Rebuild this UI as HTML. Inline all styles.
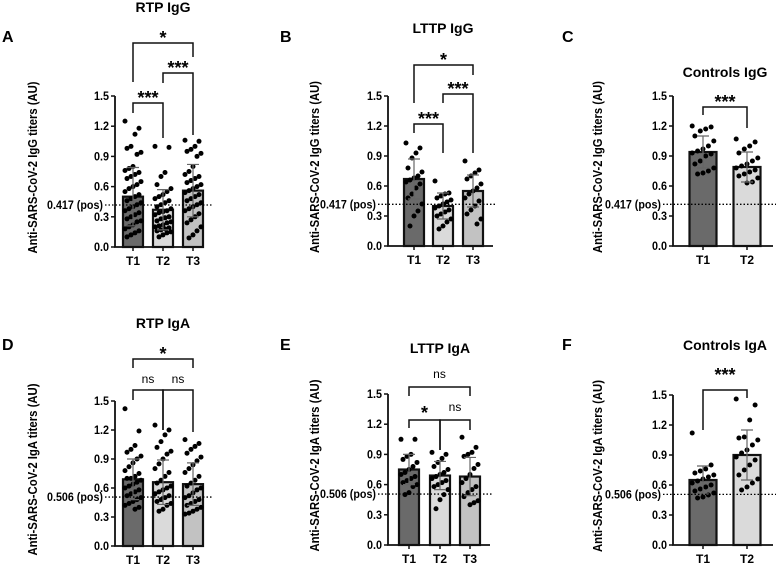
<!DOCTYPE html>
<html><head><meta charset="utf-8">
<style>
html,body{margin:0;padding:0;background:#fff;}
svg{display:block;font-family:"Liberation Sans",Arial,sans-serif;}
</style></head>
<body>
<svg id="fig" width="776" height="565" viewBox="0 0 776 565" xmlns="http://www.w3.org/2000/svg"></svg>
<script>
// ---- data ----
const categoriesA = ["T1","T2","T3"];
const meansA = [0.50,0.37,0.56];
const sdA = [0.29,0.20,0.26];
const ptsA_T1 = [1.25,1.18,1.12,1.0,0.98,0.94,0.92,0.80,0.78,0.76,0.74,0.72,0.70,0.68,0.65,0.62,0.60,0.58,0.55,0.52,0.50,0.48,0.46,0.44,0.42,0.40,0.38,0.36,0.34,0.32,0.30,0.28,0.26,0.25,0.22,0.20,0.18,0.16,0.14,0.12,0.10];
const ptsA_T2 = [1.0,0.99,0.74,0.70,0.62,0.58,0.55,0.52,0.50,0.48,0.46,0.44,0.42,0.40,0.38,0.36,0.35,0.34,0.32,0.30,0.29,0.28,0.26,0.25,0.24,0.22,0.21,0.20,0.19,0.18,0.17,0.16,0.15,0.14,0.12,0.10];
const ptsA_T3 = [1.06,1.05,1.0,0.97,0.95,0.93,0.90,0.80,0.75,0.72,0.70,0.68,0.66,0.64,0.62,0.60,0.58,0.56,0.54,0.52,0.50,0.48,0.46,0.44,0.42,0.40,0.38,0.36,0.33,0.30,0.27,0.24,0.20,0.16,0.12,0.09];

const categoriesB = ["T1","T2","T3"];
const meansB = [0.67,0.40,0.55];
const sdB = [0.20,0.13,0.16];
const ptsB_T1 = [1.03,0.98,0.93,0.88,0.78,0.74,0.70,0.68,0.66,0.64,0.62,0.58,0.52,0.48,0.42,0.35,0.30,0.20];
const ptsB_T2 = [0.65,0.53,0.52,0.50,0.48,0.46,0.44,0.42,0.40,0.38,0.36,0.34,0.32,0.30,0.27,0.24,0.20,0.17];
const ptsB_T3 = [0.85,0.76,0.73,0.70,0.67,0.62,0.58,0.55,0.52,0.48,0.45,0.40,0.36,0.32,0.27,0.22];

const categoriesC = ["T1","T2"];
const meansC = [0.94,0.79];
const sdC = [0.16,0.15];
const ptsC_T1 = [1.20,1.19,1.17,1.15,1.10,1.05,1.00,0.97,0.95,0.93,0.92,0.90,0.85,0.82,0.78,0.75,0.73,0.72];
const ptsC_T2 = [1.07,1.04,1.00,0.97,0.93,0.88,0.85,0.82,0.80,0.78,0.76,0.74,0.72,0.70,0.68,0.64,0.63];

const categoriesD = ["T1","T2","T3"];
const meansD = [0.69,0.66,0.64];
const sdD = [0.21,0.23,0.22];
const ptsD_T1 = [1.42,1.19,1.04,1.0,0.97,0.93,0.90,0.86,0.82,0.78,0.75,0.72,0.70,0.70,0.68,0.66,0.64,0.62,0.60,0.58,0.56,0.54,0.52,0.50,0.48,0.46,0.44,0.42,0.40,0.38];
const ptsD_T2 = [1.25,1.2,1.15,1.08,1.02,0.98,0.95,0.90,0.85,0.80,0.76,0.72,0.68,0.65,0.62,0.60,0.58,0.56,0.54,0.52,0.50,0.48,0.46,0.44,0.42,0.38,0.36];
const ptsD_T3 = [1.10,1.06,1.03,1.0,0.96,0.92,0.88,0.84,0.80,0.76,0.72,0.68,0.65,0.62,0.60,0.58,0.55,0.52,0.50,0.48,0.46,0.44,0.42,0.40,0.38,0.36,0.34,0.33];

const categoriesE = ["T1","T2","T3"];
const meansE = [0.75,0.69,0.68];
const sdE = [0.15,0.14,0.19];
const ptsE_T1 = [1.05,1.05,0.90,0.88,0.85,0.82,0.78,0.75,0.72,0.70,0.68,0.66,0.64,0.62,0.60,0.58,0.52,0.50];
const ptsE_T2 = [0.92,0.90,0.86,0.82,0.78,0.75,0.72,0.70,0.68,0.66,0.64,0.62,0.60,0.58,0.55,0.50,0.45,0.36];
const ptsE_T3 = [1.07,0.97,0.92,0.90,0.88,0.80,0.76,0.70,0.66,0.62,0.58,0.55,0.52,0.48,0.44,0.42,0.40];

const categoriesF = ["T1","T2"];
const meansF = [0.65,0.90];
const sdF = [0.14,0.25];
const ptsF_T1 = [1.12,0.80,0.76,0.74,0.72,0.70,0.68,0.66,0.64,0.62,0.60,0.58,0.56,0.54,0.52,0.50,0.48,0.47];
const ptsF_T2 = [1.46,1.40,1.25,1.08,1.07,1.05,1.00,0.95,0.92,0.88,0.85,0.80,0.75,0.70,0.66,0.62,0.58,0.55];

const yTicks = [0.0,0.3,0.6,0.9,1.2,1.5];
const yTickLabels = ["0.0","0.3","0.6","0.9","1.2","1.5"];
const thresholdIgG = 0.417;
const thresholdIgA = 0.506;

// ---- drawing ----
const NS = "http://www.w3.org/2000/svg";
const svg = document.getElementById("fig");
function mk(tag, attrs, parent, text){
  const e = document.createElementNS(NS, tag);
  for (const k in attrs) e.setAttribute(k, attrs[k]);
  if (text !== undefined) e.textContent = text;
  (parent||svg).appendChild(e);
  return e;
}
const fills = ["#6a6a6a","#dadada","#c2c2c2"];

function panel(cfg){
  const g = mk("g", {});
  
  
  const y = v => cfg.y0 - (v/1.5)*(cfg.y0 - cfg.y15);
  const xc = i => cfg.centers[i];
  const L = mk("text",{x:cfg.letterX,y:cfg.letterY,"font-size":16,"font-weight":"bold"},g,cfg.letter);
  
  
  const T = mk("text",{x:cfg.titleX,y:cfg.titleY,"font-size":14,"font-weight":"bold","text-anchor":"middle"},g,cfg.title);
  
  
  const ym = (cfg.y0+cfg.y15)/2 - 4;
  const YT = mk("text",{x:cfg.ytX,y:ym,"font-size":12.5,"font-weight":"bold","text-anchor":"middle",textLength:172,lengthAdjust:"spacingAndGlyphs",transform:`rotate(-90 ${cfg.ytX} ${ym})`,dy:"4"},g,cfg.ytitle);
  
  
  cfg.means.forEach((m,i)=>{
    const b = mk("rect",{x:xc(i)-cfg.bw/2,y:y(m),width:cfg.bw,height:cfg.y0-y(m),fill:fills[i],stroke:"#111","stroke-width":2.2},g);
    
    
  });
  cfg.pts.forEach((arr,i)=>{
    arr.forEach((v,k)=>{
      const off = (((k*7)%9)-4) * (cfg.bw/10);
      const p = mk("circle",{cx:xc(i)+off,cy:y(v),r:2.5,fill:"#000"},g);
      
      
    });
  });
  cfg.means.forEach((m,i)=>{
    const lo=y(m-cfg.sd[i]), hi=y(m+cfg.sd[i]);
    const e = mk("path",{d:`M${xc(i)} ${lo}V${hi}M${xc(i)-6} ${hi}H${xc(i)+6}M${xc(i)-6} ${lo}H${xc(i)+6}`,stroke:"#666","stroke-width":1.2,fill:"none"},g);
    
    
  });
  const ty = y(cfg.thr);
  const dl = mk("line",{x1:cfg.axisX-10,x2:cfg.dotEnd,y1:ty,y2:ty,stroke:"#000","stroke-width":1.3,"stroke-dasharray":"1.5,2"},g);
  
  
  const tl = mk("text",{x:cfg.axisX-12,y:ty+4,"font-size":12,"font-weight":"bold","text-anchor":"end",textLength:56,lengthAdjust:"spacingAndGlyphs"},g,cfg.thr.toFixed(3)+" (pos)");
  
  
  const ax = mk("path",{d:`M${cfg.axisX} ${cfg.y15}V${cfg.y0}H${cfg.xEnd}`,stroke:"#111","stroke-width":1.8,fill:"none"},g);
  
  
  yTicks.forEach((t,k)=>{
    mk("line",{x1:cfg.axisX-4,x2:cfg.axisX,y1:y(t),y2:y(t),stroke:"#111","stroke-width":1.5},g);
    const tt = mk("text",{x:cfg.axisX-6,y:y(t)+4,"font-size":12,"font-weight":"bold","text-anchor":"end",textLength:15,lengthAdjust:"spacingAndGlyphs"},g,yTickLabels[k]);
    
    
  });
  cfg.cats.forEach((c,i)=>{
    mk("line",{x1:xc(i),x2:xc(i),y1:cfg.y0,y2:cfg.y0+4,stroke:"#111","stroke-width":1.5},g);
    const xt = mk("text",{x:xc(i),y:cfg.y0+18,"font-size":12,"font-weight":"bold","text-anchor":"middle"},g,c);
    
    
  });
  cfg.brackets.forEach(b=>{
    const [i,j,top,bi,bj,lab,ly] = b;
    const br = mk("path",{d:`M${xc(i)} ${bi}V${top}H${xc(j)}V${bj}`,stroke:"#111","stroke-width":1.5,fill:"none"},g);
    
    
    const ns = lab==="ns";
    const st = mk("text",{x:(xc(i)+xc(j))/2,y:ns?ly:ly+3,"font-size":ns?12:18,"font-weight":ns?"normal":"bold","text-anchor":"middle"},g,lab);
    
    
  });
}

const igG = "Anti-SARS-CoV-2 IgG titers (AU)";
const igA = "Anti-SARS-CoV-2 IgA titers (AU)";

panel({letter:"A",letterX:2,letterY:42,title:"RTP IgG",titleX:163,titleY:12,ytX:33,ytitle:igG,
  axisX:115,y0:247,y15:96,centers:[133,163,193],bw:20,xEnd:203,dotEnd:213,thr:thresholdIgG,
  cats:categoriesA,means:meansA,sd:sdA,pts:[ptsA_T1,ptsA_T2,ptsA_T3],
  brackets:[[0,1,103,113,138,"***",101],[1,2,73,83,135,"***",71],[0,2,43,82,57,"*",41]]});
panel({letter:"B",letterX:280,letterY:42,title:"LTTP IgG",titleX:443,titleY:33,ytX:315,ytitle:igG,
  axisX:388,y0:246,y15:96,centers:[414,443,473],bw:20,xEnd:493,dotEnd:495,thr:thresholdIgG,
  cats:categoriesB,means:meansB,sd:sdB,pts:[ptsB_T1,ptsB_T2,ptsB_T3],
  brackets:[[0,1,124,133,153,"***",122],[1,2,94,103,153,"***",92],[0,2,65,103,75,"*",63]]});
panel({letter:"C",letterX:562,letterY:42,title:"Controls IgG",titleX:725,titleY:77,ytX:598,ytitle:igG,
  axisX:673,y0:246,y15:96,centers:[703,747],bw:27,xEnd:773,dotEnd:776,thr:thresholdIgG,
  cats:categoriesC,means:meansC,sd:sdC,pts:[ptsC_T1,ptsC_T2],
  brackets:[[0,1,107,115,128,"***",105]]});
panel({letter:"D",letterX:2,letterY:350,title:"RTP IgA",titleX:163,titleY:328,ytX:33,ytitle:igA,
  axisX:115,y0:546,y15:401,centers:[133,163,193],bw:20,xEnd:203,dotEnd:213,thr:thresholdIgA,
  cats:categoriesD,means:meansD,sd:sdD,pts:[ptsD_T1,ptsD_T2,ptsD_T3],
  brackets:[[0,1,390,400,430,"ns",383],[1,2,390,430,432,"ns",383],[0,2,359,368,368,"*",357]]});
panel({letter:"E",letterX:280,letterY:350,title:"LTTP IgA",titleX:440,titleY:353,ytX:315,ytitle:igA,
  axisX:388,y0:545,y15:394,centers:[409,440,470],bw:20,xEnd:490,dotEnd:492,thr:thresholdIgA,
  cats:categoriesE,means:meansE,sd:sdE,pts:[ptsE_T1,ptsE_T2,ptsE_T3],
  brackets:[[0,1,420,428,450,"*",416],[1,2,420,450,430,"ns",411],[0,2,387,396,396,"ns",378]]});
panel({letter:"F",letterX:562,letterY:350,title:"Controls IgA",titleX:725,titleY:350,ytX:598,ytitle:igA,
  axisX:673,y0:545,y15:395,centers:[703,747],bw:27,xEnd:773,dotEnd:776,thr:thresholdIgA,
  cats:categoriesF,means:meansF,sd:sdF,pts:[ptsF_T1,ptsF_T2],
  brackets:[[0,1,390,430,398,"***",378]]});
</script>
</body></html>
